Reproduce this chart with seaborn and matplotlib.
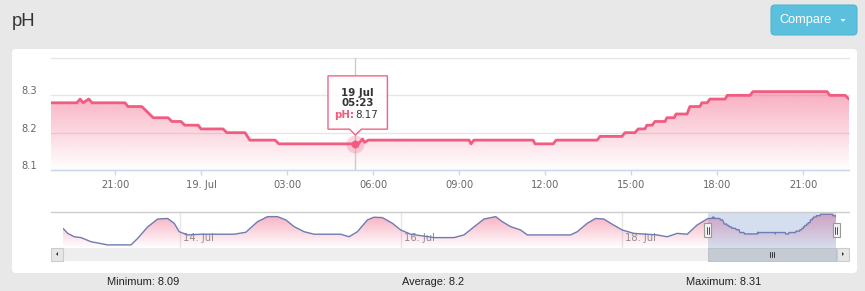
import numpy as np
import pandas as pd
import matplotlib
matplotlib.use("Agg")
import matplotlib.pyplot as plt
import matplotlib.dates as mdates
import matplotlib.colors as mcolors
import matplotlib.transforms as mtransforms
from matplotlib.patches import FancyBboxPatch, Rectangle, Polygon
from matplotlib.lines import Line2D
import seaborn as sns

# ---------------- data ----------------
title = "pH"
series_name = "pH"

main_times = [
    "2016-07-18 18:46", "2016-07-18 19:40", "2016-07-18 19:47", "2016-07-18 19:53",
    "2016-07-18 20:05", "2016-07-18 20:12", "2016-07-18 21:21", "2016-07-18 21:27",
    "2016-07-18 21:56", "2016-07-18 22:20", "2016-07-18 22:51", "2016-07-18 22:59",
    "2016-07-18 23:18", "2016-07-18 23:26", "2016-07-18 23:54", "2016-07-19 00:00",
    "2016-07-19 00:46", "2016-07-19 00:54", "2016-07-19 01:32", "2016-07-19 01:42",
    "2016-07-19 02:35", "2016-07-19 02:43", "2016-07-19 05:23", "2016-07-19 05:29",
    "2016-07-19 05:38", "2016-07-19 05:42", "2016-07-19 05:50", "2016-07-19 09:21",
    "2016-07-19 09:25", "2016-07-19 09:31", "2016-07-19 11:35", "2016-07-19 11:39",
    "2016-07-19 12:17", "2016-07-19 12:23", "2016-07-19 13:49", "2016-07-19 13:55",
    "2016-07-19 14:41", "2016-07-19 14:47", "2016-07-19 15:08", "2016-07-19 15:15",
    "2016-07-19 15:29", "2016-07-19 15:33", "2016-07-19 15:44", "2016-07-19 15:50",
    "2016-07-19 16:11", "2016-07-19 16:15", "2016-07-19 16:30", "2016-07-19 16:34",
    "2016-07-19 16:57", "2016-07-19 17:03", "2016-07-19 17:24", "2016-07-19 17:28",
    "2016-07-19 17:39", "2016-07-19 17:45", "2016-07-19 18:17", "2016-07-19 18:21",
    "2016-07-19 19:09", "2016-07-19 19:15", "2016-07-19 21:50", "2016-07-19 21:56",
    "2016-07-19 22:28", "2016-07-19 22:36",
]
main_ph = [
    8.28, 8.28, 8.29, 8.28,
    8.29, 8.28, 8.28, 8.27,
    8.27, 8.24, 8.24, 8.23,
    8.23, 8.22, 8.22, 8.21,
    8.21, 8.20, 8.20, 8.18,
    8.18, 8.17, 8.17, 8.17,
    8.183, 8.174, 8.18, 8.18,
    8.17, 8.18, 8.18, 8.17,
    8.17, 8.18, 8.18, 8.19,
    8.19, 8.20, 8.20, 8.21,
    8.21, 8.22, 8.22, 8.23,
    8.23, 8.24, 8.24, 8.25,
    8.25, 8.27, 8.27, 8.28,
    8.28, 8.29, 8.29, 8.30,
    8.30, 8.31, 8.31, 8.30,
    8.30, 8.29,
]

# older history shown only in the navigator
nav_hist_times = [
    "2016-07-12 22:36", "2016-07-12 23:36", "2016-07-13 01:02", "2016-07-13 02:30",
    "2016-07-13 04:40", "2016-07-13 08:18", "2016-07-13 13:22", "2016-07-13 14:49",
    "2016-07-13 17:00", "2016-07-13 19:10", "2016-07-13 21:20", "2016-07-13 22:46",
    "2016-07-13 23:51", "2016-07-14 01:40", "2016-07-14 04:34", "2016-07-14 11:47",
    "2016-07-14 14:20", "2016-07-14 16:52", "2016-07-14 19:03", "2016-07-14 21:13",
    "2016-07-14 23:01", "2016-07-15 00:49", "2016-07-15 03:00", "2016-07-15 05:10",
    "2016-07-15 10:58", "2016-07-15 12:47", "2016-07-15 14:35", "2016-07-15 16:46",
    "2016-07-15 18:12", "2016-07-15 20:01", "2016-07-15 22:11", "2016-07-16 00:00",
    "2016-07-16 02:10", "2016-07-16 07:14", "2016-07-16 11:34", "2016-07-16 13:45",
    "2016-07-16 15:55", "2016-07-16 18:05", "2016-07-16 20:38", "2016-07-16 22:05",
    "2016-07-16 23:53", "2016-07-17 02:04", "2016-07-17 03:31", "2016-07-17 12:55",
    "2016-07-17 14:22", "2016-07-17 16:33", "2016-07-17 18:21", "2016-07-17 20:09",
    "2016-07-17 21:36", "2016-07-18 00:09", "2016-07-18 02:40", "2016-07-18 07:45",
    "2016-07-18 09:55", "2016-07-18 12:06", "2016-07-18 14:16", "2016-07-18 16:26",
]
nav_hist_ph = [
    8.21, 8.175, 8.15, 8.144,
    8.115, 8.092, 8.092, 8.138,
    8.22, 8.276, 8.28, 8.246,
    8.186, 8.163, 8.168, 8.168,
    8.182, 8.257, 8.293, 8.293,
    8.27, 8.222, 8.186, 8.168,
    8.168, 8.15, 8.186, 8.27,
    8.289, 8.286, 8.246, 8.198,
    8.168, 8.144, 8.144, 8.163,
    8.22, 8.276, 8.293, 8.257,
    8.222, 8.198, 8.163, 8.163,
    8.186, 8.246, 8.28, 8.276,
    8.246, 8.198, 8.174, 8.163,
    8.15, 8.174, 8.168, 8.234,
]

x_tick_times = ["2016-07-18 21:00", "2016-07-19 00:00", "2016-07-19 03:00",
                "2016-07-19 06:00", "2016-07-19 09:00", "2016-07-19 12:00",
                "2016-07-19 15:00", "2016-07-19 18:00", "2016-07-19 21:00"]
x_tick_labels = ["21:00", "19. Jul", "03:00", "06:00", "09:00", "12:00",
                 "15:00", "18:00", "21:00"]
y_ticks = [8.1, 8.2, 8.3, 8.4]
y_tick_labels = ["8.1", "8.2", "8.3", ""]
y_range = [8.1, 8.4]
nav_y_range = [8.07, 8.326]

nav_tick_times = ["2016-07-14", "2016-07-16", "2016-07-18"]
nav_tick_labels = ["14. Jul", "16. Jul", "18. Jul"]

tooltip_time = "2016-07-19 05:23"
tooltip_day = "19 Jul"
tooltip_clock = "05:23"
tooltip_value = 8.17

stats_labels = ["Minimum: 8.09", "Average: 8.2", "Maximum: 8.31"]
button_label = "Compare"

# ---------------- style ----------------
W, H, DPI = 865, 291, 100
sns.set_theme(style="white")
plt.rcParams["font.family"] = ["DejaVu Sans"]

LINE = "#f15c80"
NAVLINE = "#6d7db2"
LABEL = "#666666"

main_x = mdates.date2num(pd.to_datetime(main_times))
nav_x = np.concatenate([mdates.date2num(pd.to_datetime(nav_hist_times)), main_x])
nav_y = np.concatenate([nav_hist_ph, main_ph])
tip_x = mdates.date2num(pd.Timestamp(tooltip_time))

fig = plt.figure(figsize=(W / DPI, H / DPI), dpi=DPI, facecolor="#e8e8e8")
inch = fig.dpi_scale_trans


def P(x, y):
    return (x / DPI, (H - y) / DPI)


# page elements
fig.text(12 / W, 1 - 25.5 / H, title, fontsize=13.3, color="#333333",
         family="Liberation Sans", ha="left", va="baseline")
fig.add_artist(FancyBboxPatch(P(771, 35), 86 / DPI, 30 / DPI,
                              boxstyle="round,pad=0,rounding_size=0.04",
                              transform=inch, fc="#5bc0de", ec="#52b6d4", lw=0.8))
fig.text(806 / W, 1 - 20.5 / H, button_label, fontsize=9.2, color="white",
         family="Liberation Sans", ha="center", va="center")
fig.add_artist(Polygon([P(840.5, 19), P(845.5, 19), P(843, 21.8)], closed=True,
                       transform=inch, fc="white", ec="none"))
fig.add_artist(FancyBboxPatch(P(12, 273), 845 / DPI, 224 / DPI,
                              boxstyle="round,pad=0,rounding_size=0.04",
                              transform=inch, fc="white", ec="none", zorder=0))

for lbl, cx in zip(stats_labels, [143.5, 433, 724]):
    fig.text(cx / W, 1 - 282 / H, lbl, fontsize=7.9, color="#222222",
             family="Liberation Sans", ha="center", va="center")


def gradient_fill(ax, x, y, base, top, a_top, a_bot, color):
    poly = ax.fill_between(x, y, base, facecolor="none", edgecolor="none")
    rgb = mcolors.to_rgb(color)
    z = np.empty((256, 1, 4))
    z[:, :, :3] = rgb
    z[:, 0, 3] = np.linspace(a_bot, a_top, 256)
    im = ax.imshow(z, aspect="auto", origin="lower",
                   extent=[x[0], x[-1], base, top], zorder=1.2)
    im.set_clip_path(poly.get_paths()[0], transform=ax.transData)


# ---------------- main chart ----------------
ax = fig.add_axes([51 / W, 1 - 170 / H, 798 / W, 112 / H])
ax.set_facecolor("none")
gradient_fill(ax, main_x, np.array(main_ph), y_range[0], 8.31, 0.5, 0.0, LINE)
sns.lineplot(x=main_x, y=main_ph, ax=ax, color=LINE, linewidth=2,
             estimator=None, sort=True, zorder=3)
ax.set_xlim(main_x[0], main_x[-1])
ax.set_ylim(*y_range)
ax.set_xlabel("")
ax.set_ylabel("")
for s in ["top", "left", "right"]:
    ax.spines[s].set_visible(False)
ax.spines["bottom"].set_color("#ccd6eb")
ax.spines["bottom"].set_linewidth(1)
ax.set_yticks(y_ticks)
ax.set_yticklabels(y_tick_labels)
ax.set_xticks(mdates.date2num(pd.to_datetime(x_tick_times)))
ax.set_xticklabels(x_tick_labels)
ax.grid(axis="y", color="#e6e6e6", linewidth=1)
ax.grid(axis="x", visible=False)
for gl in ax.get_ygridlines():
    gl.set_clip_on(False)
ax.tick_params(axis="y", length=0, pad=10, labelsize=7.1, labelcolor=LABEL)
ax.tick_params(axis="x", length=3.6, width=1, color="#ccd6eb", pad=3.6,
               labelsize=7.1, labelcolor=LABEL, bottom=True)
shift_up = mtransforms.ScaledTranslation(0, 5 / DPI, inch)
for t in ax.get_yticklabels():
    t.set_transform(t.get_transform() + shift_up)

# crosshair + hovered point
ax.axvline(tip_x, color="#cccccc", linewidth=1, zorder=2)
ax.scatter([tip_x], [tooltip_value], s=170, color=LINE, alpha=0.25,
           linewidths=0, zorder=4)
ax.scatter([tip_x], [tooltip_value], s=32, color=LINE, linewidths=0, zorder=5)

# tooltip (drawn inside the main axes so the text sits on top of the box)
anchor = inch + mtransforms.ScaledTranslation(tip_x, tooltip_value, ax.transData)
box = [(-27.4, 14.7), (-6, 14.7), (0, 9), (6, 14.7), (32, 14.7), (32, 68), (-27.4, 68)]
ax.add_patch(Polygon([((bx + 1) / DPI, (by - 1) / DPI) for bx, by in box], closed=True,
                     transform=anchor, fc="black", alpha=0.06, ec="none", zorder=9,
                     clip_on=False))
ax.add_patch(Polygon([(bx / DPI, by / DPI) for bx, by in box], closed=True,
                     transform=anchor, fc="white", alpha=0.95, ec=LINE, lw=1,
                     zorder=10, clip_on=False))


def tip_text(s, dx, dy, ha="center", color="#333333", weight="bold"):
    ax.annotate(s, xy=(tip_x, tooltip_value), xytext=(dx * 0.72, dy * 0.72),
                textcoords="offset points", ha=ha, va="center", fontsize=7.4,
                color=color, weight=weight, zorder=11, annotation_clip=False)


tip_text(tooltip_day, 1.5, 51.3)
tip_text(tooltip_clock, 2.3, 40.7)
tip_text(series_name + ":", -1.6, 28.6, ha="right", color=LINE)
tip_text(f"{tooltip_value:.2f}", 0.2, 28.6, ha="left", weight="normal")

# ---------------- navigator ----------------
axn = fig.add_axes([63 / W, 1 - 248 / H, 773 / W, 36 / H])
axn.set_facecolor("none")
nav_ticks = mdates.date2num(pd.to_datetime(nav_tick_times))
for xt in nav_ticks:
    axn.axvline(xt, color="#e6e6e6", linewidth=1, zorder=0.5)
gradient_fill(axn, nav_x, nav_y, nav_y_range[0], 8.31, 0.5, 0.0, LINE)
sns.lineplot(x=nav_x, y=nav_y, ax=axn, color=NAVLINE, linewidth=1,
             estimator=None, sort=True, zorder=2)
axn.set_xlim(nav_x[0], nav_x[-1])
axn.set_ylim(*nav_y_range)
axn.set_xlabel("")
axn.set_ylabel("")
axn.set_xticks([])
axn.set_yticks([])
for s in axn.spines.values():
    s.set_visible(False)
blend = mtransforms.blended_transform_factory(axn.transData, axn.transAxes)
for xt, lbl in zip(nav_ticks, nav_tick_labels):
    axn.annotate(lbl, xy=(xt, 0.28), xycoords=blend, xytext=(2.4, 0),
                 textcoords="offset points", ha="left", va="center",
                 fontsize=7.1, color="#8c8c8c", zorder=1.5)
axn.axvspan(main_x[0], main_x[-1], color=(0.40, 0.52, 0.77), alpha=0.27,
            linewidth=0, zorder=3)
fig.add_artist(Line2D([51 / DPI, 849 / DPI], [(H - 212) / DPI] * 2,
                      transform=inch, color="#cccccc", linewidth=1, zorder=5))

# handles
for hx in [main_x[0], main_x[-1]]:
    htr = inch + mtransforms.ScaledTranslation(hx, 0.5, blend)
    fig.add_artist(Rectangle((-3.5 / DPI, -7 / DPI), 7 / DPI, 14 / DPI,
                             transform=htr, fc="#f2f2f2", ec="#999999",
                             lw=0.8, zorder=6))
    for off in (-1, 1):
        fig.add_artist(Line2D([off / DPI] * 2, [-3.5 / DPI, 3.5 / DPI],
                              transform=htr, color="#333333", lw=0.6, zorder=7))

# ---------------- scrollbar ----------------
axs = fig.add_axes([51 / W, 1 - 261 / H, 798 / W, 13 / H])
axs.set_facecolor("#eeeeee")
axs.set_xticks([])
axs.set_yticks([])
for s in axs.spines.values():
    s.set_visible(False)
fig.add_artist(Rectangle(P(51, 261), 12 / DPI, 13 / DPI, transform=inch,
                         fc="#e6e6e6", ec="#cccccc", lw=0.8, zorder=5))
fig.add_artist(Rectangle(P(837, 261), 12 / DPI, 13 / DPI, transform=inch,
                         fc="#e6e6e6", ec="#cccccc", lw=0.8, zorder=5))
fig.add_artist(Polygon([P(58, 252), P(58, 256), P(56, 254)], closed=True,
                       transform=inch, fc="#333333", ec="none", zorder=6))
fig.add_artist(Polygon([P(842, 252), P(842, 256), P(844, 254)], closed=True,
                       transform=inch, fc="#333333", ec="none", zorder=6))
sblend = mtransforms.blended_transform_factory(axn.transData, axs.transAxes)
fig.add_artist(Rectangle((main_x[0], 0), main_x[-1] - main_x[0], 1,
                         transform=sblend, fc="#c4cbd3", ec="#b8bec6",
                         lw=0.6, zorder=5))
mid = (main_x[0] + main_x[-1]) / 2
gtr = inch + mtransforms.ScaledTranslation(mid, 0.5, sblend)
for off in (-2, 0, 2):
    fig.add_artist(Line2D([off / DPI] * 2, [-2.5 / DPI, 2.5 / DPI],
                          transform=gtr, color="#333333", lw=0.7, zorder=6))

fig.savefig("out.png", dpi=DPI, facecolor=fig.get_facecolor())
